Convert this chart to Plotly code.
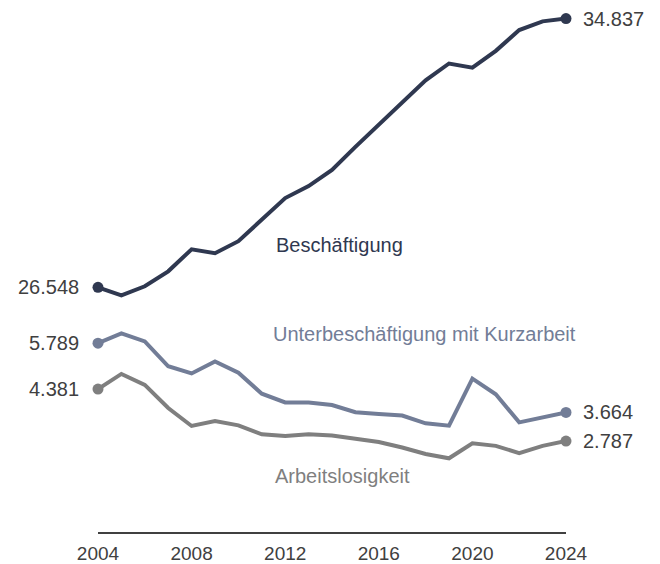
"""Beschäftigung, Unterbeschäftigung und Arbeitslosigkeit 2004-2024 (Mio.)."""

import plotly.graph_objects as go

years = list(range(2004, 2025))

beschaeftigung = [
    26.548, 26.30, 26.58, 27.04, 27.72, 27.60, 27.97, 28.65, 29.30, 29.67, 30.17,
    30.88, 31.56, 32.24, 32.93, 33.45, 33.32, 33.84, 34.48, 34.75, 34.837,
]
unterbeschaeftigung = [
    5.789, 6.09, 5.84, 5.08, 4.86, 5.23, 4.88, 4.24, 3.97, 3.97, 3.89,
    3.67, 3.62, 3.57, 3.33, 3.26, 4.70, 4.22, 3.36, 3.52, 3.664,
]
arbeitslosigkeit = [
    4.381, 4.845, 4.51, 3.80, 3.25, 3.40, 3.27, 2.996, 2.94, 2.996, 2.96,
    2.87, 2.76, 2.59, 2.39, 2.26, 2.72, 2.64, 2.42, 2.64, 2.787,
]

tick_years = [2004, 2008, 2012, 2016, 2020, 2024]

FONT = "Liberation Sans, Arial, sans-serif"
TEXT = "#404040"
C_BESCH = "#2F3850"
C_UNTER = "#727D97"
C_ALO = "#7F7F7F"


def fmt(v: float) -> str:
    return f"{v:.3f}"


def add_series(fig, values, color, yaxis):
    fig.add_trace(
        go.Scatter(
            x=years,
            y=values,
            mode="lines",
            line=dict(color=color, width=4),
            yaxis=yaxis,
            hoverinfo="skip",
            cliponaxis=False,
        )
    )
    # end markers
    fig.add_trace(
        go.Scatter(
            x=[years[0], years[-1]],
            y=[values[0], values[-1]],
            mode="markers",
            marker=dict(color=color, size=11),
            yaxis=yaxis,
            hoverinfo="skip",
            cliponaxis=False,
        )
    )


fig = go.Figure()
add_series(fig, beschaeftigung, C_BESCH, "y2")
add_series(fig, unterbeschaeftigung, C_UNTER, "y")
add_series(fig, arbeitslosigkeit, C_ALO, "y")

annotations = []
for values, yref in [
    (beschaeftigung, "y2"),
    (unterbeschaeftigung, "y"),
    (arbeitslosigkeit, "y"),
]:
    annotations.append(
        dict(x=years[0], y=values[0], xref="x", yref=yref, text=fmt(values[0]),
             xanchor="right", xshift=-17, showarrow=False,
             font=dict(family=FONT, size=20, color=TEXT))
    )
    annotations.append(
        dict(x=years[-1], y=values[-1], xref="x", yref=yref, text=fmt(values[-1]),
             xanchor="left", xshift=15, showarrow=False,
             font=dict(family=FONT, size=20, color=TEXT))
    )

# series names
annotations += [
    dict(x=2014.34, y=27.85, xref="x", yref="y2", text="Beschäftigung",
         showarrow=False, font=dict(family=FONT, size=20, color=C_BESCH)),
    dict(x=2017.97, y=6.07, xref="x", yref="y", text="Unterbeschäftigung mit Kurzarbeit",
         showarrow=False, font=dict(family=FONT, size=20, color=C_UNTER)),
    dict(x=2014.43, y=1.72, xref="x", yref="y", text="Arbeitslosigkeit",
         showarrow=False, font=dict(family=FONT, size=20, color=C_ALO)),
]

# the page puts the figure 8px in from the top-left corner, so shrink it to fit
fig.update_layout(
    width=652,
    height=556,
    margin=dict(l=90, r=94, t=2, b=32, autoexpand=False),
    paper_bgcolor="white",
    plot_bgcolor="white",
    showlegend=False,
    font=dict(family=FONT, size=20, color=TEXT),
    annotations=annotations,
    xaxis=dict(
        range=[2004, 2024],
        tickvals=tick_years,
        ticktext=[str(y) for y in tick_years],
        showgrid=False,
        zeroline=False,
        showline=True,
        linecolor="#404040",
        linewidth=1.5,
        ticks="",
        ticklabelstandoff=3,
        automargin=False,
        tickfont=dict(family=FONT, size=19, color=TEXT),
    ),
    yaxis=dict(range=[0, 16], visible=False, fixedrange=True),
    yaxis2=dict(range=[19, 35.1], visible=False, overlaying="y", fixedrange=True),
)

fig.write_html("out.html")
